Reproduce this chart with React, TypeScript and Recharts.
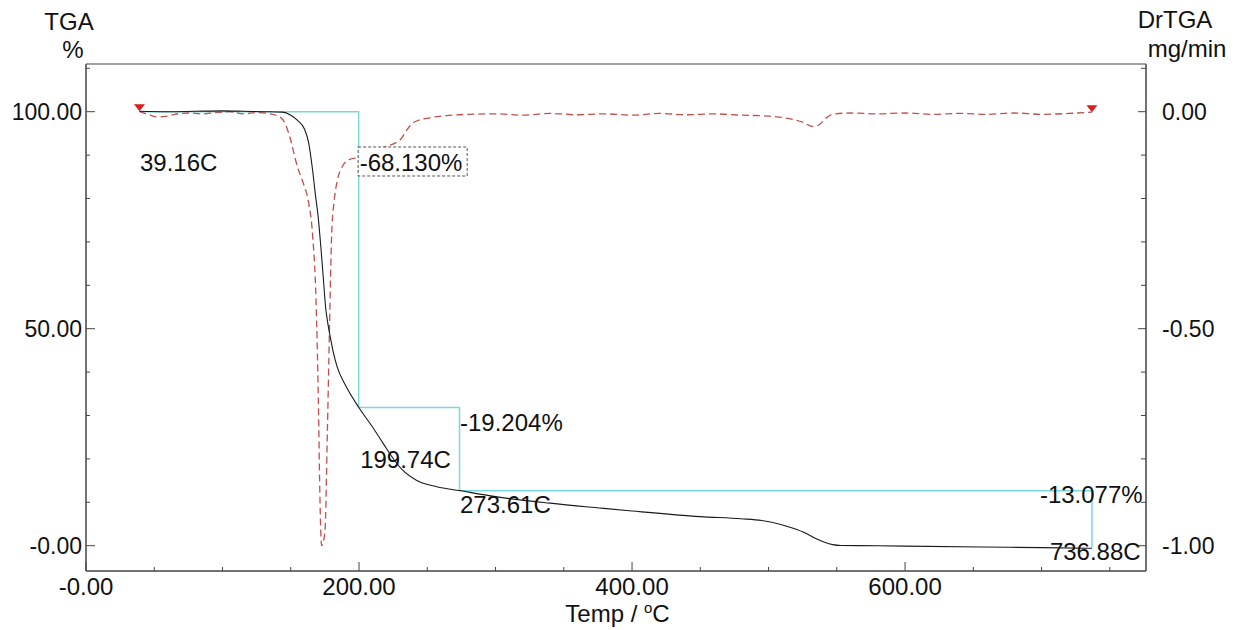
import React from 'react';
import { ComposedChart, Line, XAxis, YAxis, ReferenceDot, ReferenceArea } from 'recharts';

// TGA mass curve (%)
const tgaTemp = [39.16, 60, 80, 100, 115, 130, 144, 150, 155, 160, 163, 166, 168, 170, 172, 174, 175.5, 177, 179, 181, 184, 190, 199.74, 210, 218, 225, 232, 242, 257, 273.61, 300, 340, 376, 400, 450, 480, 495, 509, 518, 527, 535, 541, 547, 553, 580, 600, 656, 700, 736.88];
const tgaMass = [100.1, 100.0, 100.1, 100.2, 100.1, 100.0, 99.9, 99.2, 98.0, 96.0, 93.0, 86.5, 81.0, 76.0, 69.0, 61.0, 55.0, 51.5, 48.0, 44.8, 41.2, 37.0, 31.9, 27.3, 23.4, 20.1, 17.4, 15.1, 13.6, 12.7, 11.3, 9.8, 8.7, 8.0, 6.7, 6.2, 5.8, 4.9, 4.0, 2.9, 1.6, 0.8, 0.25, 0.05, 0.0, -0.1, -0.3, -0.45, -0.6];

// DrTGA curve (mg/min)
const dtgTemp = [39.16, 43, 47, 52, 58, 65, 75, 85, 95, 105, 115, 125, 135, 142, 146, 149, 155, 159, 162.8, 166, 168.5, 170.2, 171.4, 172.6, 175, 176.8, 178.3, 180, 182, 184, 188, 193, 200, 215, 230, 235, 240, 252, 264, 280, 300, 320, 340, 360, 380, 400, 420, 440, 460, 480, 500, 515, 525, 532, 537, 542, 547, 560, 580, 600, 620, 640, 660, 680, 700, 720, 736.88];
const dtgRate = [0.001, -0.004, -0.008, -0.012, -0.011, -0.006, -0.003, -0.005, -0.002, 0.0, -0.005, -0.002, -0.005, -0.012, -0.028, -0.055, -0.128, -0.163, -0.205, -0.285, -0.434, -0.664, -0.895, -1.0, -0.97, -0.74, -0.51, -0.28, -0.2, -0.16, -0.125, -0.11, -0.105, -0.085, -0.065, -0.042, -0.025, -0.014, -0.009, -0.006, -0.005, -0.008, -0.004, -0.007, -0.005, -0.008, -0.004, -0.007, -0.005, -0.008, -0.01, -0.016, -0.024, -0.034, -0.03, -0.015, -0.006, -0.003, -0.005, -0.003, -0.006, -0.004, -0.006, -0.003, -0.006, -0.004, -0.001];

// step analysis
const stepTemps = [39.16, 199.74, 273.61, 736.88];
const stepLosses = [68.13, 19.204, 13.077];
const startLevel = 100;

// ticks
const xTicks = [0, 50, 100, 150, 200, 250, 300, 350, 400, 450, 500, 550, 600, 650, 700, 750];
const xMajorTicks = [0, 200, 400, 600];
const xTickLabels = ['-0.00', '200.00', '400.00', '600.00'];
const leftTicks = [0, 10, 20, 30, 40, 50, 60, 70, 80, 90, 100, 110];
const leftMajorTicks = [0, 50, 100];
const leftTickLabels = ['-0.00', '50.00', '100.00'];
const rightTicks = [-1, -0.9, -0.8, -0.7, -0.6, -0.5, -0.4, -0.3, -0.2, -0.1, 0, 0.1];
const rightMajorTicks = [-1, -0.5, 0];
const rightTickLabels = ['-1.00', '-0.50', '0.00'];

const tgaData = tgaTemp.map((x, i) => ({ x, y: tgaMass[i] }));
const dtgData = dtgTemp.map((x, i) => ({ x, y: dtgRate[i] }));

const levels = [startLevel];
stepLosses.forEach((l, i) => levels.push(levels[i] - l));
const stepData: { x: number; y: number }[] = [];
for (let i = 0; i < stepLosses.length; i++) {
  stepData.push({ x: stepTemps[i], y: levels[i] });
  stepData.push({ x: stepTemps[i + 1], y: levels[i] });
  stepData.push({ x: stepTemps[i + 1], y: levels[i + 1] });
}
const tempLabels = stepTemps.map((t) => `${t.toFixed(2)}C`);
const lossLabels = stepLosses.map((l) => `-${l.toFixed(3)}%`);

const FONT = '"Liberation Sans", Arial, sans-serif';
const AXIS = '#444';
const TXT = '#111';

const XTick = (p: any) => {
  const i = xMajorTicks.indexOf(p.payload.value);
  return (
    <g>
      <line x1={p.x} x2={p.x} y1={p.y} y2={p.y - (i >= 0 ? 9 : 4)} stroke={AXIS} />
      {i >= 0 && (
        <text x={p.x} y={p.y + 24} textAnchor="middle" fontSize={24} fontFamily={FONT} fill={TXT}>
          {xTickLabels[i]}
        </text>
      )}
    </g>
  );
};

const LeftTick = (p: any) => {
  const i = leftMajorTicks.indexOf(p.payload.value);
  return (
    <g>
      <line x1={p.x} x2={p.x + (i >= 0 ? 9 : 4)} y1={p.y} y2={p.y} stroke={AXIS} />
      {i >= 0 && (
        <text x={p.x - 4} y={p.y + 8.5} textAnchor="end" fontSize={23} fontFamily={FONT} fill={TXT}>
          {leftTickLabels[i]}
        </text>
      )}
    </g>
  );
};

const RightTick = (p: any) => {
  const i = rightMajorTicks.indexOf(p.payload.value);
  return (
    <g>
      <line x1={p.x} x2={p.x - (i >= 0 ? 8 : 5)} y1={p.y} y2={p.y} stroke={AXIS} />
      {i >= 0 && (
        <text x={p.x + 16} y={p.y + 8.5} textAnchor="start" fontSize={23} fontFamily={FONT} fill={TXT}>
          {rightTickLabels[i]}
        </text>
      )}
    </g>
  );
};

const annot = (text: string, dx: number, dy: number, boxed = false) => (p: any) => (
  <g>
    {boxed && (
      <rect x={p.cx + dx - 1.5} y={p.cy + dy - 24} width={109} height={29} fill="#fff" stroke="#555" strokeDasharray="3 2" />
    )}
    <text x={p.cx + dx} y={p.cy + dy} fontSize={24} fontFamily={FONT} fill={TXT}>
      {text}
    </text>
  </g>
);

const triangle = (p: any) => (
  <path d={`M${p.cx - 5.5},${p.cy - 7} L${p.cx + 5.5},${p.cy - 7} L${p.cx},${p.cy} Z`} fill="#d81e1e" />
);

export default function App() {
  return (
    <div style={{ position: 'absolute', left: 0, top: 0, width: 1244, height: 630, background: '#fff' }}>
      <ComposedChart width={1244} height={630} margin={{ top: 64, right: 0, bottom: 0, left: 0 }}>
        <XAxis
          type="number"
          dataKey="x"
          domain={[0, 776.5]}
          allowDataOverflow
          ticks={xTicks}
          interval={0}
          tickSize={0}
          tickMargin={0}
          tick={XTick}
          tickLine={false}
          height={59}
          stroke={AXIS}
          label={{
            content: (p: any) => {
              const vb = p.viewBox;
              return (
                <text x={vb.x + vb.width / 2 + 1.5} y={vb.y + 51} textAnchor="middle" fontSize={24} fontFamily={FONT} fill={TXT}>
                  Temp / <tspan fontSize={15} dy={-9}>o</tspan>
                  <tspan dy={9}>C</tspan>
                </text>
              );
            },
          }}
        />
        <YAxis
          yAxisId="left"
          type="number"
          domain={[-5.83, 110.99]}
          allowDataOverflow
          ticks={leftTicks}
          interval={0}
          tickSize={0}
          tickMargin={0}
          tick={LeftTick}
          tickLine={false}
          width={86}
          stroke={AXIS}
          label={{
            content: (p: any) => {
              const vb = p.viewBox;
              return (
                <g fontSize={24} fontFamily={FONT} fill={TXT} textAnchor="middle">
                  <text x={vb.x + 69} y={vb.y - 34}>TGA</text>
                  <text x={vb.x + 73} y={vb.y - 6}>%</text>
                </g>
              );
            },
          }}
        />
        <YAxis
          yAxisId="right"
          orientation="right"
          type="number"
          domain={[-1.0583, 0.1099]}
          allowDataOverflow
          ticks={rightTicks}
          interval={0}
          tickSize={0}
          tickMargin={0}
          tick={RightTick}
          tickLine={false}
          width={98}
          stroke={AXIS}
          label={{
            content: (p: any) => {
              const vb = p.viewBox;
              return (
                <g fontSize={24} fontFamily={FONT} fill={TXT} textAnchor="middle">
                  <text x={vb.x + 29} y={vb.y - 36}>DrTGA</text>
                  <text x={vb.x + 41} y={vb.y - 7}>mg/min</text>
                </g>
              );
            },
          }}
        />
        <ReferenceArea yAxisId="left" x1={0} x2={776.5} y1={-5.83} y2={110.99} fill="none" stroke={AXIS} strokeWidth={1} ifOverflow="visible" />

        <Line yAxisId="left" data={stepData} dataKey="y" type="linear" stroke="#7ad8e2" strokeWidth={1.5} dot={false} isAnimationActive={false} />
        <Line yAxisId="right" data={dtgData} dataKey="y" type="monotone" stroke="#c0504d" strokeWidth={1.3} strokeDasharray="7 4" dot={false} isAnimationActive={false} />
        <Line yAxisId="left" data={tgaData} dataKey="y" type="monotone" stroke="#1a1a1a" strokeWidth={1.1} dot={false} isAnimationActive={false} />

        <ReferenceDot yAxisId="right" x={dtgTemp[0]} y={dtgRate[0]} r={0} shape={triangle} />
        <ReferenceDot yAxisId="right" x={dtgTemp[dtgTemp.length - 1]} y={dtgRate[dtgRate.length - 1]} r={0} shape={triangle} />

        <ReferenceDot yAxisId="left" x={stepTemps[0]} y={levels[0]} r={0} shape={annot(tempLabels[0], 0.5, 59.3)} />
        <ReferenceDot yAxisId="left" x={stepTemps[1]} y={levels[0]} r={0} shape={annot(lossLabels[0], 1, 59.3, true)} />
        <ReferenceDot yAxisId="left" x={stepTemps[1]} y={levels[1]} r={0} shape={annot(tempLabels[1], 1.5, 60.6)} />
        <ReferenceDot yAxisId="left" x={stepTemps[2]} y={levels[1]} r={0} shape={annot(lossLabels[1], 0.5, 24)} />
        <ReferenceDot yAxisId="left" x={stepTemps[2]} y={levels[2]} r={0} shape={annot(tempLabels[2], 0.5, 22.3)} />
        <ReferenceDot yAxisId="left" x={stepTemps[3]} y={levels[2]} r={0} shape={annot(lossLabels[2], -52, 12.3)} />
        <ReferenceDot yAxisId="left" x={stepTemps[3]} y={levels[3]} r={0} shape={annot(tempLabels[3], -42, 12.5)} />
      </ComposedChart>
    </div>
  );
}
